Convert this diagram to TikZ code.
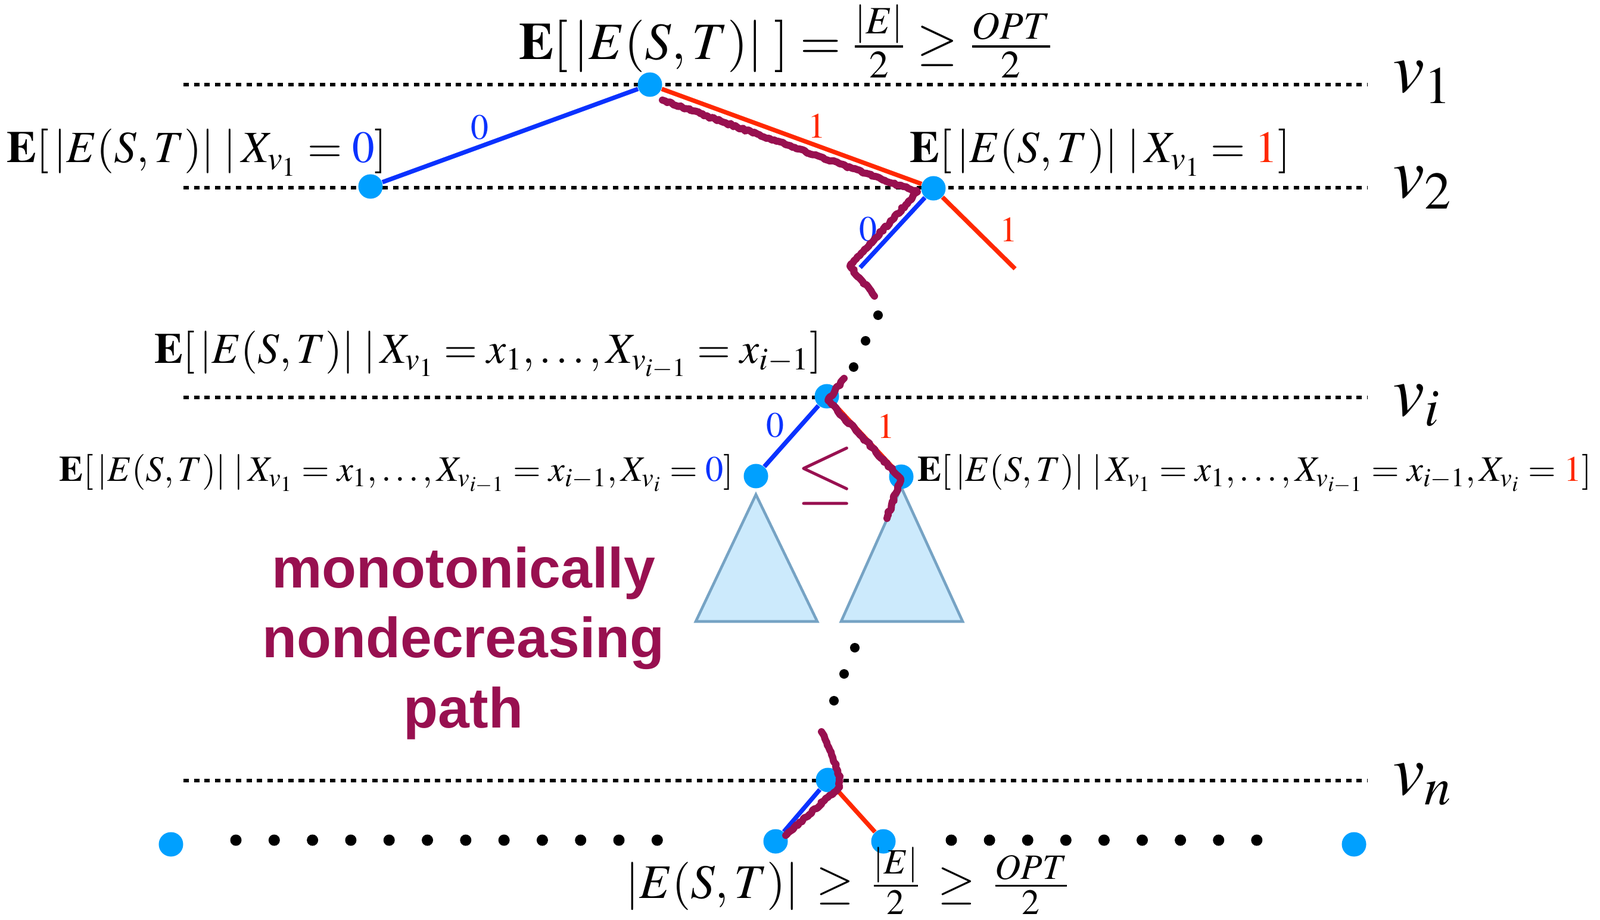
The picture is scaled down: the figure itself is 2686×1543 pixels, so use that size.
\documentclass[tikz,border=0pt]{standalone}
\usepackage{amsmath}
\usepackage{mathptmx}
\usepackage[no-math]{fontspec}
\setmainfont{Liberation Serif}
\newfontfamily\pathfont{Liberation Sans}
\usetikzlibrary{backgrounds,decorations.pathmorphing}

\definecolor{edgeblue}{RGB}{10,50,255}
\definecolor{edgered}{RGB}{255,40,0}
\definecolor{nodeblue}{RGB}{0,160,255}
\definecolor{pathpurple}{RGB}{152,16,80}
\definecolor{treefill}{RGB}{204,234,252}
\definecolor{treeline}{RGB}{118,163,196}

\newcommand{\cutexp}{\mathbf{E}[\,|E(S,T)|\;}

\begin{document}
\begin{tikzpicture}[
  x=0.01cm, y=-0.01cm,
  vtx/.style={circle, fill=nodeblue, inner sep=0pt, minimum size=0.41cm},
  pt/.style={circle, fill=black, inner sep=0pt, minimum size=0.19cm},
  zero/.style={draw=edgeblue, line width=2.1pt},
  one/.style={draw=edgered, line width=2.1pt},
  level/.style={draw=black, line width=1.6pt, dash pattern=on 2.6pt off 2.4pt},
  subtree/.style={draw=treeline, fill=treefill, line width=1.3pt},
  mono/.style={draw=pathpurple, line width=3.4pt, line join=round, line cap=round,
               decorate, decoration={random steps, segment length=1.2pt, amplitude=0.5pt}},
  lbl0/.style={text=edgeblue, inner sep=0pt, font=\fontsize{17}{20}\selectfont},
  lbl1/.style={text=edgered, inner sep=0pt, font=\fontsize{17}{20}\selectfont},
  cond/.style={inner sep=0pt, font=\fontsize{20.5}{24}\selectfont},
  condsm/.style={inner sep=0pt, font=\fontsize{17.1}{21}\selectfont},
  vlab/.style={inner sep=0pt, anchor=base west, font=\fontsize{34}{40}\selectfont},
]
\useasboundingbox (0,0) rectangle (2686,1543);

% vertices of the decision tree
\node[vtx] (r)  at (1091,142) {};
\node[vtx] (a0) at (622,313) {};
\node[vtx] (a1) at (1567,316) {};
\coordinate (b0) at (1444,449);
\coordinate (b1) at (1704,451);
\node[vtx] (m)  at (1388,665) {};
\node[vtx] (m0) at (1269,799) {};
\node[vtx] (m1) at (1513,800) {};
\node[vtx] (n)  at (1390,1309) {};
\node[vtx] (n0) at (1302,1412) {};
\node[vtx] (n1) at (1483,1412) {};
\node[vtx] (nL) at (287,1417) {};
\node[vtx] (nR) at (2273,1417) {};

% leaves in between
\foreach \k in {0,...,11}
  \node[pt] (lf\k) at ({396+64.3*\k},1410) {};
\foreach \k in {0,...,8}
  \node[pt] (rt\k) at ({1597+64.1*\k},1410) {};
\foreach \x/\y [count=\k] in {1474/529, 1453/572, 1433/616}
  \node[pt, minimum size=0.16cm] (up\k) at (\x,\y) {};
\foreach \x/\y [count=\k] in {1435/1087, 1417/1131, 1400/1176}
  \node[pt, minimum size=0.16cm] (lo\k) at (\x,\y) {};

\begin{scope}[on background layer]
  \foreach \y/\yl/\lv in {142/155/1, 315/332/2, 667/697/i, 1310/1333/n} {
    \draw[level] (308,\y) -- (2295,\y);
    \node[vlab] (lv\lv) at (2338,\yl) {$v_{\lv}$};
  }
  \draw[subtree] (1269,830) -- (1168,1043) -- (1372,1043) -- cycle;
  \draw[subtree] (1513,818) -- (1412,1043) -- (1616,1043) -- cycle;
  \draw[zero] (r) -- (a0);
  \draw[one]  (r) -- (a1);
  \draw[zero] (a1) -- (b0);
  \draw[one]  (a1) -- (b1);
  \draw[zero] (m) -- (m0);
  \draw[one]  (m) -- (m1);
  \draw[zero] (n) -- (n0);
  \draw[one]  (n) -- (n1);
\end{scope}

% edge labels
\node[lbl0] (e0r) at (805,214)  {$0$};
\node[lbl1] (e1r) at (1371,212) {$1$};
\node[lbl0] (e0a) at (1457,385) {$0$};
\node[lbl1] (e1a) at (1693,386) {$1$};
\node[lbl0] (e0m) at (1301,714) {$0$};
\node[lbl1] (e1m) at (1487,715) {$1$};

% conditional expectations
\node[cond, font=\fontsize{25}{30}\selectfont, anchor=base] (qr) at (1319,100)
  {$\cutexp] = \frac{|E|}{2} \geq \frac{OPT}{2}$};
\node[cond, font=\fontsize{21.3}{25}\selectfont, anchor=base east] (q0) at (650,273)
  {$\cutexp|\,X_{v_1} = \textcolor{edgeblue}{0}]$};
\node[cond, font=\fontsize{21.3}{25}\selectfont, anchor=base west] (q1) at (1527,273)
  {$\cutexp|\,X_{v_1} = \textcolor{edgered}{1}]$};
\node[cond, anchor=base east] (qm) at (1380,610)
  {$\cutexp|\,X_{v_1} = x_1, \ldots, X_{v_{i-1}} = x_{i-1}]$};
\node[condsm, anchor=base east] (qm0) at (1232,807)
  {$\cutexp|\,X_{v_1} = x_1, \ldots, X_{v_{i-1}} = x_{i-1}, X_{v_i} = \textcolor{edgeblue}{0}]$};
\node[condsm, anchor=base west] (qm1) at (1540,807)
  {$\cutexp|\,X_{v_1} = x_1, \ldots, X_{v_{i-1}} = x_{i-1}, X_{v_i} = \textcolor{edgered}{1}]$};
\node[cond, font=\fontsize{23}{28}\selectfont, anchor=base] (qb) at (1423,1507)
  {$|E(S,T)| \:\geq\: \frac{|E|}{2} \:\geq\: \frac{OPT}{2}$};

\node[text=pathpurple, inner sep=0pt, font=\fontsize{36}{40}\selectfont] (le) at (1386,799) {$\leq$};
\node[text=pathpurple, font=\pathfont\bfseries\fontsize{27}{33.4}\selectfont,
      align=center, inner sep=0pt, anchor=north] (pathtxt) at (778,917)
  {monotonically\\nondecreasing\\path};

% the chosen path
\draw[mono] (1112,168) -- (1540,322) -- (1427,447) -- (1468,497);
\draw[mono] (1417,635) -- (1390,672) -- (1512,803) -- (1489,870);
\draw[mono] (1379,1228) .. controls (1398,1275) and (1416,1300) .. (1406,1324) -- (1319,1402);

\end{tikzpicture}
\end{document}
